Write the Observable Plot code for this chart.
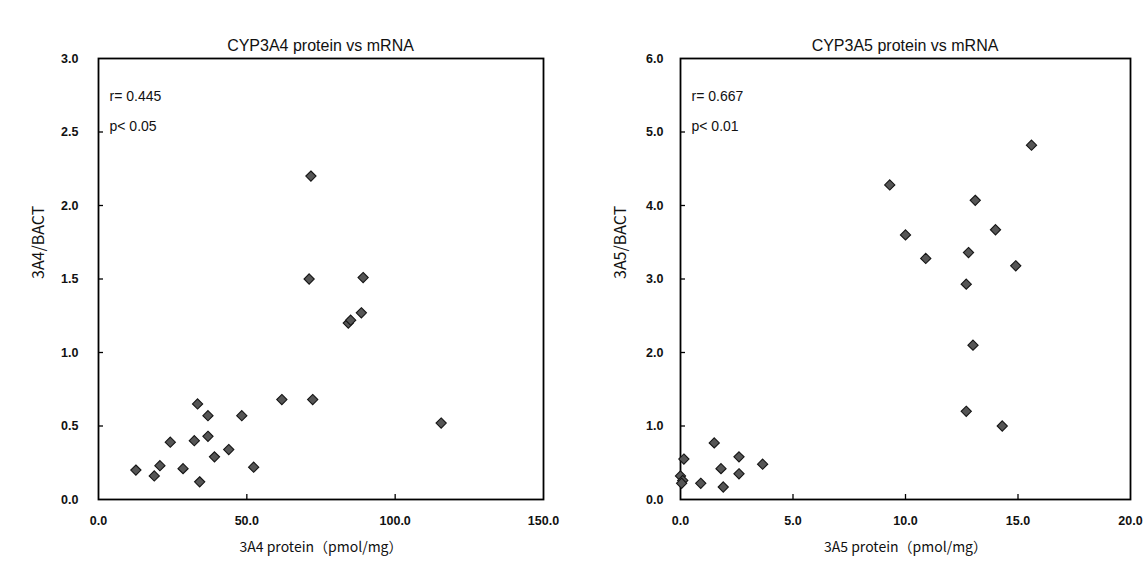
<!DOCTYPE html>
<html>
<head>
<meta charset="utf-8">
<script src="https://cdn.jsdelivr.net/npm/d3@7"></script>
<script src="https://cdn.jsdelivr.net/npm/@observablehq/plot@0.6"></script>
<style>
  html, body { margin: 0; padding: 0; background: #fff; }
  #wrap { position: relative; width: 1147px; height: 575px; overflow: hidden; font-family: "Liberation Sans", Arial, sans-serif; }
  .panel { position: absolute; top: 0; }
  .title { position: absolute; top: 37px; font-size: 16px; color: #111; text-align: center; white-space: nowrap; }
</style>
</head>
<body>
<div id="wrap"></div>
<script>
// ---- Data: CYP3A4 ----
const protein3A4 = [12.6, 18.8, 20.7, 24.2, 28.5, 32.3, 33.4, 34.1, 36.9, 36.9, 39.1, 43.9, 48.3, 52.3, 61.8, 71.6, 71.0, 72.2, 84.2, 85.0, 88.6, 89.2, 115.5];
const mrna3A4    = [0.20, 0.16, 0.23, 0.39, 0.21, 0.40, 0.65, 0.12, 0.57, 0.43, 0.29, 0.34, 0.57, 0.22, 0.68, 2.20, 1.50, 0.68, 1.20, 1.22, 1.27, 1.51, 0.52];
const xTicks3A4 = [0, 50, 100, 150];
const yTicks3A4 = [0, 0.5, 1.0, 1.5, 2.0, 2.5, 3.0];
const stats3A4 = ["r= 0.445", "p< 0.05"];

// ---- Data: CYP3A5 ----
const protein3A5 = [0.0, 0.1, 0.05, 0.15, 0.9, 1.5, 1.8, 1.9, 2.6, 2.6, 3.65, 9.3, 10.0, 10.9, 12.7, 12.7, 12.8, 13.0, 13.1, 14.0, 14.3, 14.9, 15.6];
const mrna3A5    = [0.32, 0.26, 0.22, 0.55, 0.22, 0.77, 0.42, 0.17, 0.58, 0.35, 0.48, 4.28, 3.60, 3.28, 2.93, 1.20, 3.36, 2.10, 4.07, 3.67, 1.00, 3.18, 4.82];
const xTicks3A5 = [0, 5, 10, 15, 20];
const yTicks3A5 = [0, 1, 2, 3, 4, 5, 6];
const stats3A5 = ["r= 0.667", "p< 0.01"];

const panels = [
  { left: 0, width: 573, mL: 98, mR: 30, pad: 20, title: "CYP3A4 protein vs mRNA",
    xs: protein3A4, ys: mrna3A4, xTicks: xTicks3A4, yTicks: yTicks3A4, stats: stats3A4,
    xLabel: "3A4 protein（pmol/mg）", yLabel: "3A4/BACT" },
  { left: 573, width: 574, mL: 107, mR: 17, pad: 17, title: "CYP3A5 protein vs mRNA",
    xs: protein3A5, ys: mrna3A5, xTicks: xTicks3A5, yTicks: yTicks3A5, stats: stats3A5,
    xLabel: "3A5 protein（pmol/mg）", yLabel: "3A5/BACT" }
];

const wrap = document.getElementById("wrap");
const fmt = d => d.toFixed(1);
const H = 575, mT = 58, mB = 76;

for (const p of panels) {
  const data = p.xs.map((x, i) => ({x, y: p.ys[i]}));
  const xd = [p.xTicks[0], p.xTicks[p.xTicks.length - 1]];
  const yd = [p.yTicks[0], p.yTicks[p.yTicks.length - 1]];
  const fw = p.width - p.mL - p.mR, fh = H - mT - mB;
  const tick = 5;
  const xLen = (xd[1] - xd[0]) * tick / fw;
  const yLen = (yd[1] - yd[0]) * tick / fh;
  const innerX = p.xTicks.slice(1, -1);
  const innerY = p.yTicks.slice(1, -1);

  const chart = Plot.plot({
    width: p.width, height: H,
    marginLeft: p.mL, marginRight: p.mR, marginTop: mT, marginBottom: mB,
    style: { fontFamily: "'Liberation Sans', Arial, sans-serif", fontSize: "12.5px", color: "#111", background: "transparent" },
    x: { domain: xd },
    y: { domain: yd },
    marks: [
      Plot.axisX(p.xTicks, { tickSize: 0, tickPadding: 17, tickFormat: fmt, label: null, fontWeight: "bold" }),
      Plot.axisY(p.yTicks, { tickSize: 0, tickPadding: p.pad, tickFormat: fmt, label: null, fontWeight: "bold" }),
      Plot.ruleY(innerY, { x1: xd[0], x2: xd[0] + xLen, stroke: "#000", strokeWidth: 1.3 }),
      Plot.ruleX(innerX, { y1: yd[0], y2: yd[0] + yLen, stroke: "#000", strokeWidth: 1.3 }),
      Plot.frame({ stroke: "#000", strokeWidth: 1.8 }),
      Plot.dot(data, { x: "x", y: "y", symbol: "diamond2", r: 4.6, fill: "#555", stroke: "#151515", strokeWidth: 1.1 }),
      Plot.text([p.stats[0]], { text: d => d, frameAnchor: "top-left", dx: 11, dy: 33, fontSize: 14, fill: "#111" }),
      Plot.text([p.stats[1]], { text: d => d, frameAnchor: "top-left", dx: 11, dy: 63, fontSize: 14, fill: "#111" }),
      Plot.text([p.xLabel], { text: d => d, frameAnchor: "bottom", dy: 52, fontSize: 14, fill: "#111", fontFamily: "'Noto Sans CJK JP', 'Liberation Sans', sans-serif" }),
      Plot.text([p.yLabel], { text: d => d, frameAnchor: "left", dx: -60, rotate: -90, fontSize: 16, fill: "#111", fontFamily: "'Noto Sans CJK JP', 'Liberation Sans', sans-serif", style: "letter-spacing: 1px" })
    ]
  });
  const div = document.createElement("div");
  div.className = "panel";
  div.style.left = p.left + "px";
  div.appendChild(chart);
  wrap.appendChild(div);

  const t = document.createElement("div");
  t.className = "title";
  t.textContent = p.title;
  const cx = p.left + p.mL + fw / 2;
  t.style.left = (cx - 150) + "px";
  t.style.width = "300px";
  wrap.appendChild(t);
}
</script>
</body>
</html>
